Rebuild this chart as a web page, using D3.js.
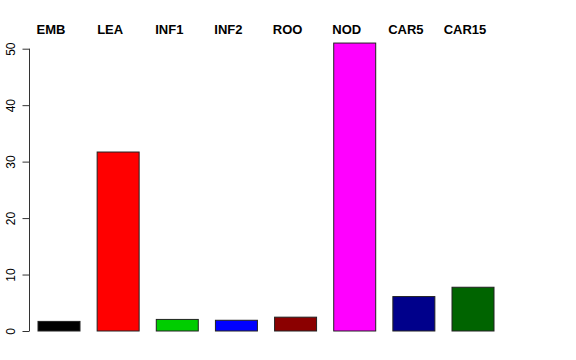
<!DOCTYPE html>
<html lang="en">
<head>
    <meta charset="UTF-8">
    <title>Bar chart</title>
    <script src="https://cdn.jsdelivr.net/npm/d3@7"></script>
    <style>
        html, body { margin: 0; padding: 0; background: #fff; }
        svg { display: block; }
    </style>
</head>
<body>
    <script>
        // data
        const categories = ['EMB', 'LEA', 'INF1', 'INF2', 'ROO', 'NOD', 'CAR5', 'CAR15']
        const values = [1.7, 31.7, 2.05, 1.9, 2.45, 51.0, 6.1, 7.75]
        const barColors = ['#000000', '#ff0000', '#00cd00', '#0000ff', '#8b0000', '#ff00ff', '#00008b', '#006400']
        const yTicks = [0, 10, 20, 30, 40, 50]

        const width = 576
        const height = 360

        const svg = d3.select('body')
            .append('svg')
            .attr('width', width)
            .attr('height', height)

        const xScale = d3.scaleBand()
            .domain(categories)
            .range([38, 494])
            .paddingInner(0.29)
            .paddingOuter(0)

        const yScale = d3.scaleLinear()
            .domain([0, 50])
            .range([331, 48.7])

        // bars
        svg.selectAll('rect.bar')
            .data(categories)
            .enter()
            .append('rect')
            .attr('class', 'bar')
            .attr('x', d => xScale(d))
            .attr('y', (d, i) => yScale(values[i]))
            .attr('width', xScale.bandwidth())
            .attr('height', (d, i) => yScale(0) - yScale(values[i]))
            .attr('fill', (d, i) => barColors[i])
            .attr('stroke', '#222')
            .attr('stroke-width', 1)

        // category labels along the top
        svg.selectAll('text.cat')
            .data(categories)
            .enter()
            .append('text')
            .attr('class', 'cat')
            .attr('x', d => xScale(d) + xScale.bandwidth() / 2 - 8)
            .attr('y', 34)
            .attr('text-anchor', 'middle')
            .attr('font-family', 'Liberation Sans, Arial, sans-serif')
            .attr('font-weight', 'bold')
            .attr('font-size', '13px')
            .text(d => d)

        // y axis, R style
        const yAxis = d3.axisLeft(yScale)
            .tickValues(yTicks)
            .tickSize(7)
            .tickPadding(0)

        const gy = svg.append('g')
            .attr('transform', 'translate(29.5, 0)')
            .call(yAxis)

        gy.select('.domain')
            .attr('d', `M0,${yScale(0)}V${yScale(50)}`)
            .attr('stroke', '#333')
        gy.selectAll('.tick line').attr('stroke', '#333')
        gy.selectAll('.tick text')
            .attr('font-family', 'Liberation Sans, Arial, sans-serif')
            .attr('font-size', '12px')
            .attr('fill', '#000')
            .attr('text-anchor', 'middle')
            .attr('x', 0)
            .attr('dy', 0)
            .attr('transform', 'translate(-15, 0) rotate(-90)')
    </script>
</body>
</html>
